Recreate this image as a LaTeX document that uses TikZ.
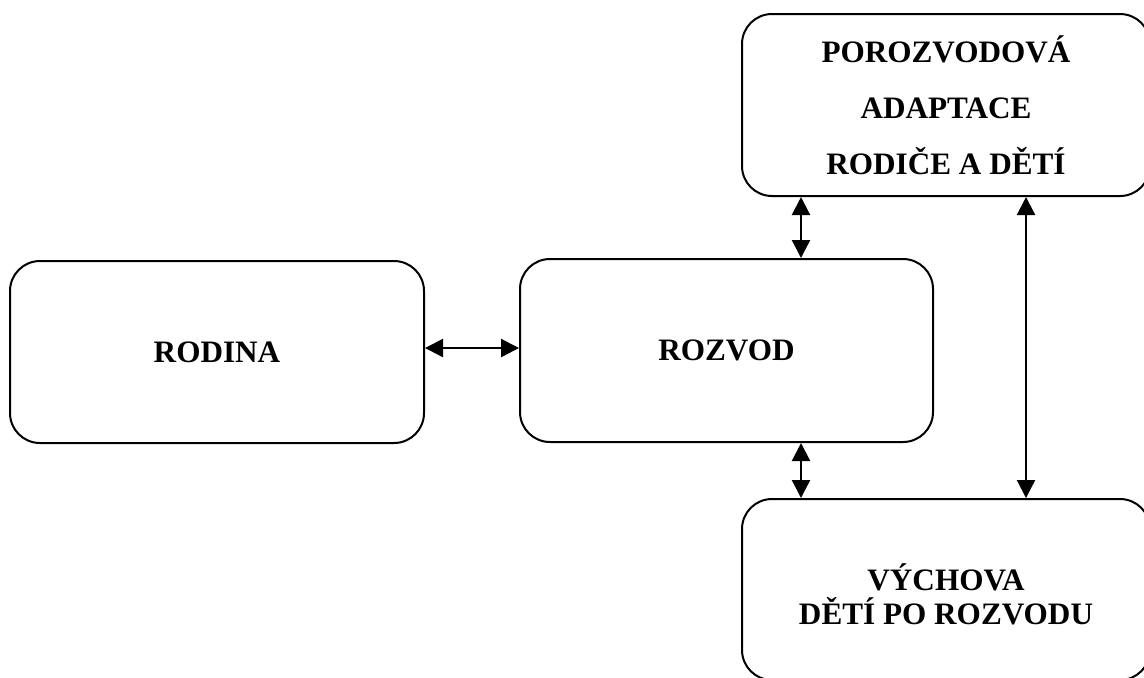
\documentclass[tikz,border=0pt]{standalone}
\usepackage{fontspec}
\setmainfont{Liberation Serif}
\usetikzlibrary{arrows.meta}
\begin{document}
\begin{tikzpicture}[x=0.5pt,y=-0.5pt,
  box/.style={draw=black,line width=1pt,rounded corners=15pt,inner sep=0pt,
    minimum width=#1,align=center,font=\bfseries\fontsize{15.6}{17.5}\selectfont},
  conn/.style={line width=1.1pt,{Triangle[length=9pt,width=9pt]}-{Triangle[length=9pt,width=9pt]}}]
\useasboundingbox (0,0) rectangle (1144,677);
\clip (0,0) rectangle (1144,677);
\node[box=207pt,minimum height=91pt] (rodina) at (217,352) {RODINA};
\node[box=206.5pt,minimum height=91.5pt] (rozvod) at (726.5,350.5) {ROZVOD};
\node[box=204pt,minimum height=91pt,font=\bfseries\fontsize{15.6}{28}\selectfont] (adapt) at (946,105) {POROZVODOVÁ\\ADAPTACE\\RODIČE A DĚTÍ};
\node[box=204pt,minimum height=90.5pt] (vychova) at (946,589.5) {\raisebox{0pt}[\dimexpr\height+10pt\relax][\depth]{\begin{tabular}{@{}c@{}}VÝCHOVA\\[-1.5pt]DĚTÍ PO ROZVODU\end{tabular}}};
\draw[conn] (rodina.east |- 0,348) -- (rozvod.west |- 0,348);
\draw[conn] ([xshift=30pt]adapt.south west) -- ([xshift=30pt]adapt.south west |- rozvod.north);
\draw[conn] ([xshift=30pt]vychova.north west |- rozvod.south) -- ([xshift=30pt]vychova.north west);
\draw[conn] ([xshift=142.5pt]adapt.south west) -- ([xshift=142.5pt]vychova.north west);
\end{tikzpicture}
\end{document}
